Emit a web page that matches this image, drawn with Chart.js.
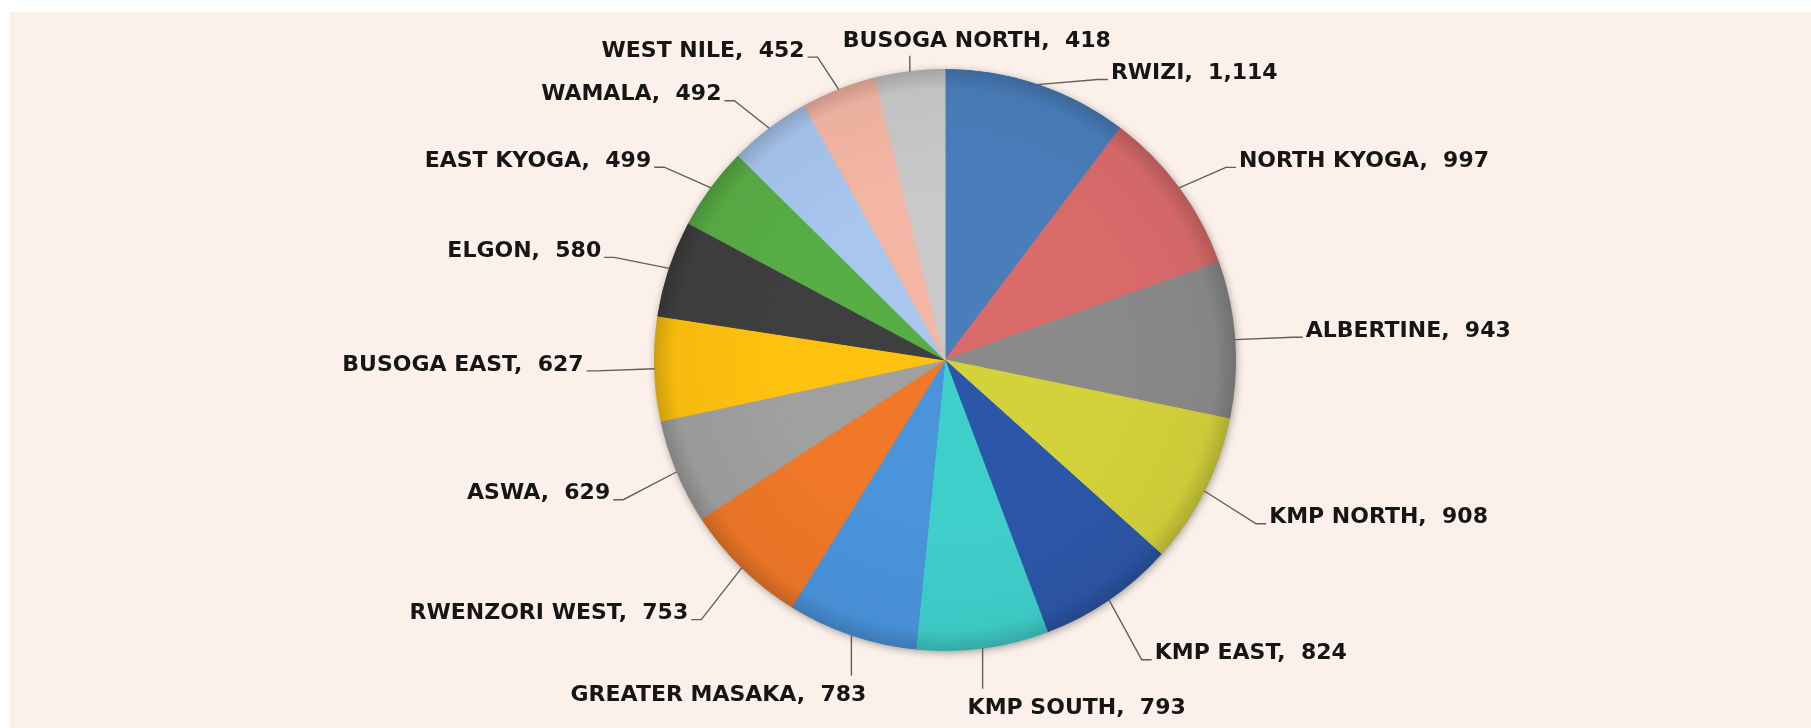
<!DOCTYPE html>
<html>
<head>
<meta charset="utf-8">
<script src="https://cdn.jsdelivr.net/npm/chart.js@4.4.0/dist/chart.umd.min.js"></script>
<style>
  html, body { margin: 0; padding: 0; background: #fff; }
  #wrap { width: 1811px; height: 728px; position: relative; }
</style>
</head>
<body>
<div id="wrap"><canvas id="pie"></canvas></div>
<script>
// regions, clockwise from 12 o'clock
const regions = ['RWIZI', 'NORTH KYOGA', 'ALBERTINE', 'KMP NORTH', 'KMP EAST', 'KMP SOUTH',
  'GREATER MASAKA', 'RWENZORI WEST', 'ASWA', 'BUSOGA EAST', 'ELGON', 'EAST KYOGA',
  'WAMALA', 'WEST NILE', 'BUSOGA NORTH'];
const counts = [1114, 997, 943, 908, 824, 793, 783, 753, 629, 627, 580, 499, 492, 452, 418];
const sliceColors = ['#4A7EBB', '#DB6B6B', '#8A8A8A', '#D4D23A', '#2C56A8', '#3FCFCB',
  '#4A94DC', '#F07828', '#A0A0A0', '#FFC20E', '#3F3F3F', '#58AE45',
  '#A8C6EE', '#F5B7A5', '#C9C9C9'];

const labelFont = 'bold 22px "DejaVu Sans", Verdana, sans-serif';

// page background: white strip top/left, beige panel
const bgPlugin = {
  id: 'bg',
  beforeDraw(chart) {
    const c = chart.ctx;
    c.save();
    c.fillStyle = '#ffffff';
    c.fillRect(0, 0, chart.width, chart.height);
    c.fillStyle = '#FBF1EA';
    c.fillRect(10, 12, chart.width - 10, chart.height - 12);
    c.restore();
  }
};

// soft shadow under the pie + darker rim
const shadePlugin = {
  id: 'shade',
  beforeDatasetsDraw(chart) {
    const a = chart.getDatasetMeta(0).data[0];
    if (!a) return;
    const c = chart.ctx;
    c.save();
    c.shadowColor = 'rgba(0,0,0,0.45)';
    c.shadowBlur = 10;
    c.shadowOffsetX = 1;
    c.shadowOffsetY = 2;
    c.fillStyle = '#888';
    c.beginPath();
    c.arc(a.x, a.y, a.outerRadius - 1, 0, Math.PI * 2);
    c.fill();
    c.restore();
  },
  afterDatasetsDraw(chart) {
    const a = chart.getDatasetMeta(0).data[0];
    if (!a) return;
    const c = chart.ctx;
    const g = c.createRadialGradient(a.x, a.y, a.outerRadius * 0.55, a.x, a.y, a.outerRadius);
    g.addColorStop(0, 'rgba(0,0,0,0)');
    g.addColorStop(0.85, 'rgba(0,0,0,0.04)');
    g.addColorStop(1, 'rgba(0,0,0,0.18)');
    c.save();
    c.fillStyle = g;
    c.beginPath();
    c.arc(a.x, a.y, a.outerRadius + 0.5, 0, Math.PI * 2);
    c.fill();
    c.restore();
  }
};

// "NAME,  value" labels with leader lines, laid out from the arc geometry
const leaderPlugin = {
  id: 'leaders',
  afterDraw(chart) {
    const meta = chart.getDatasetMeta(0);
    const ds = chart.data.datasets[0];
    const c = chart.ctx;
    c.save();
    c.font = labelFont;
    const lineH = 24, tick = 10, lift = 7, gap = 6;
    const items = meta.data.map((arc, i) => {
      const p = arc.getProps(['x', 'y', 'startAngle', 'endAngle', 'outerRadius'], true);
      const mid = (p.startAngle + p.endAngle) / 2;
      const r = p.outerRadius;
      const cx = Math.cos(mid), cy = Math.sin(mid);
      const text = chart.data.labels[i] + ',  ' + ds.data[i].toLocaleString('en-US');
      const w = c.measureText(text).width;
      const it = { text, w, cx, cy, sx: p.x + cx * r, sy: p.y + cy * r };
      const top = cy < 0;
      if (Math.abs(cx) < (top ? 0.2 : 0.35)) {
        // label above / below the pie, vertical leader
        it.kind = 'center';
        const dir = top ? -1 : 1;
        it.ex = it.sx;
        it.ey = it.sy + dir * r * (top ? 0.055 : 0.14);
        if (top) it.tx = it.ex + w * 0.25;
        else it.tx = it.ex + (cx > -0.2 ? 1 : -1) * (w / 2 - 15);
        it.ty = it.ey + dir * (top ? 14 : 20);
        it.box = [it.tx - w / 2, it.ty - lineH / 2, it.tx + w / 2, it.ty + lineH / 2];
      } else {
        it.kind = cx > 0 ? 'right' : 'left';
        it.ex = p.x + cx * r * 1.2;
        it.ey = p.y + cy * r * (top ? 1.12 : 1.25);
      }
      return it;
    });
    const placed = items.filter(it => it.kind === 'center').map(it => it.box);
    const hits = b => placed.some(q => b[0] < q[2] + gap && b[2] + gap > q[0] &&
                                       b[1] < q[3] + gap && b[3] + gap > q[1]);
    const sideBox = it => {
      const x0 = it.kind === 'right' ? it.ex + tick + 3 : it.ex - tick - 3 - it.w;
      return [x0, it.ey - lift - lineH / 2, x0 + it.w, it.ey - lift + lineH / 2];
    };
    const right = items.filter(it => it.kind === 'right').sort((a, b) => a.ey - b.ey);
    const left = items.filter(it => it.kind === 'left').sort((a, b) => b.ey - a.ey);
    right.forEach(it => {
      while (hits(sideBox(it))) {
        if (it.cy < 0) { it.ex += 1.5; it.ey += 1; } else it.ey += 1;
      }
      placed.push(sideBox(it));
    });
    left.forEach(it => { while (hits(sideBox(it))) it.ey -= 1; placed.push(sideBox(it)); });

    c.strokeStyle = '#5e5e5e';
    c.lineWidth = 1.4;
    c.fillStyle = '#161616';
    c.textBaseline = 'middle';
    items.forEach(it => {
      c.beginPath();
      c.moveTo(it.sx, it.sy);
      c.lineTo(it.ex, it.ey);
      if (it.kind === 'center') {
        c.stroke();
        c.textAlign = 'center';
        c.fillText(it.text, it.tx, it.ty);
      } else {
        const d = it.kind === 'right' ? 1 : -1;
        c.lineTo(it.ex + d * tick, it.ey);
        c.stroke();
        c.textAlign = it.kind === 'right' ? 'left' : 'right';
        c.fillText(it.text, it.ex + d * (tick + 3), it.ey - lift + 1);
      }
    });
    c.restore();
  }
};

new Chart(document.getElementById('pie'), {
  type: 'pie',
  data: {
    labels: regions,
    datasets: [{
      data: counts,
      backgroundColor: sliceColors,
      borderColor: sliceColors,
      borderWidth: 1
    }]
  },
  options: {
    responsive: true,
    maintainAspectRatio: false,
    animation: false,
    layout: { padding: { top: 69, bottom: 77, left: 445, right: 366 } },
    plugins: {
      legend: { display: false },
      tooltip: { enabled: false }
    }
  },
  plugins: [bgPlugin, shadePlugin, leaderPlugin]
});
</script>
</body>
</html>
